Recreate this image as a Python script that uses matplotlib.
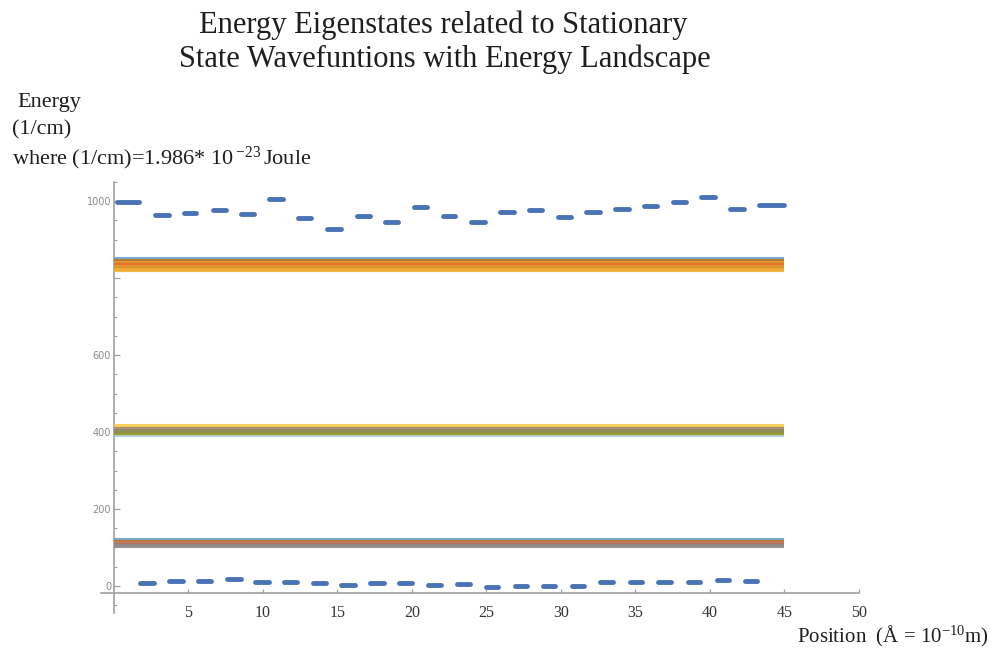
import matplotlib
matplotlib.use('Agg')
from matplotlib import pyplot as plt
from matplotlib.ticker import MultipleLocator, FixedLocator

plt.rcParams['mathtext.fontset'] = 'custom'
plt.rcParams['mathtext.rm'] = 'Liberation Serif'
plt.rcParams['mathtext.it'] = 'Liberation Serif:italic'

#-*-*-*-*-*-*-*-*--*-*-*-*-*-*-*-*-*-*-*-*-*---*-*-*-*-*-*-*-*-*-*-*-*
# Energy landscape (1/cm): barrier tops and well bottoms, one dash per cell

barrier_left = [0.07, 2.62, 4.56, 6.51, 8.39, 10.27, 12.21, 14.16, 16.17, 18.05,
                20.00, 21.95, 23.83, 25.77, 27.72, 29.66, 31.54, 33.49, 35.44,
                37.38, 39.26, 41.21, 43.15]
barrier_right = [1.81, 3.83, 5.64, 7.65, 9.53, 11.48, 13.36, 15.37, 17.32, 19.19,
                 21.14, 23.02, 25.03, 26.98, 28.86, 30.81, 32.75, 34.70, 36.58,
                 38.52, 40.47, 42.42, 45.10]
barrier_energy = [997, 964, 970, 976, 968, 1007, 956, 928, 962, 947, 984, 962,
                  945, 972, 978, 959, 972, 981, 987, 998, 1010, 981, 990]

well_left = [1.61, 3.56, 5.50, 7.45, 9.33, 11.28, 13.22, 15.10, 17.05, 18.99,
             20.94, 22.83, 24.81, 26.75, 28.66, 30.60, 32.46, 34.45, 36.38,
             38.34, 40.33, 42.21]
well_right = [2.82, 4.77, 6.64, 8.66, 10.54, 12.42, 14.36, 16.31, 18.26, 20.13,
              22.08, 24.07, 25.93, 27.87, 29.78, 31.72, 33.63, 35.57, 37.55,
              39.46, 41.44, 43.32]
well_energy = [7, 14, 14, 17, 11, 11, 8, 2, 8, 8, 2, 6, -2, 1, 1, 0, 9, 9, 9,
               11, 16, 13]

# Eigen-energies (1/cm), bunched in three bands over the whole structure
band_1 = [119, 115, 111, 107, 103]
band_2 = [415, 409, 403, 397, 392]
band_3 = [849, 844, 839, 835, 830, 825, 821]
x_end = 45

y_ticks = [0, 200, 400, 600, 800, 1000]
y_tick_labels = ['0', '200', '400', '600', '', '1000']
x_ticks = [5, 10, 15, 20, 25, 30, 35, 40, 45, 50]

#-*-*-*-*-*-*-*-*--*-*-*-*-*-*-*-*-*-*-*-*-*---*-*-*-*-*-*-*-*-*-*-*-*

band_1_colors = ['#5D9EC7', '#C56E1A', '#C87A5A', '#A87565', '#8C8C8C']
band_2_colors = ['#F5C842', '#9C8070', '#8E8A5A', '#929600', '#A8C8E0']
band_2_order = [4, 0, 1, 3, 2]
band_3_colors = ['#5D9EC7', '#C56E1A', '#E19C24', '#EB6235', '#E19C24', '#D98A3A', '#F2B030']

DASH = '#4A73B5'
CAP = 0.16  # half the dash width in x units, taken up by the round caps
SERIF = 'Liberation Serif'
INK = '#1e1e1e'


def draw_dashes(ax, left, right, energy):
    lines = ax.hlines(energy, [l + CAP for l in left], [r - CAP for r in right],
                      colors=DASH, linewidth=3.5, zorder=4)
    lines.set_capstyle('round')


def draw_band(ax, levels, colors, order=None):
    idx = order if order is not None else range(len(levels))
    for i in idx:
        ax.plot([0, x_end], [levels[i], levels[i]], color=colors[i],
                lw=3.0, alpha=0.85, solid_capstyle='butt', zorder=3)


fig = plt.figure(figsize=(9.95, 6.48), dpi=100)
ax = fig.add_axes([0.1018, 0.0542, 0.7615, 0.6650])
ax.set_xlim(-0.85, 50)
ax.set_ylim(-70, 1050)

draw_band(ax, band_1, band_1_colors)
draw_band(ax, band_2, band_2_colors, band_2_order)
draw_band(ax, band_3, band_3_colors)
draw_dashes(ax, barrier_left, barrier_right, barrier_energy)
draw_dashes(ax, well_left, well_right, well_energy)

# axes cross like a Mathematica plot
for s in ['top', 'right']:
    ax.spines[s].set_visible(False)
ax.spines['left'].set_position(('data', 0))
ax.spines['bottom'].set_position(('data', -18))
ax.spines['bottom'].set_bounds(-0.85, 50)
for s in ['left', 'bottom']:
    ax.spines[s].set_color('#a0a0a0')
    ax.spines[s].set_linewidth(1.2)

ax.yaxis.set_major_locator(FixedLocator(y_ticks))
ax.set_yticklabels(y_tick_labels)
ax.yaxis.set_minor_locator(MultipleLocator(50))
ax.tick_params(axis='y', which='major', direction='in', length=4, width=0.9,
               color='#a0a0a0', labelsize=7, labelcolor='#8a8a8a', pad=2)
ax.tick_params(axis='y', which='minor', direction='in', length=2.5, width=0.8,
               color='#a0a0a0')

ax.xaxis.set_major_locator(FixedLocator(x_ticks))
ax.tick_params(axis='x', which='major', direction='in', length=3, width=0.9,
               color='#a0a0a0', labelsize=11.5, labelcolor='#333333', pad=9)
for lab in ax.get_xticklabels():
    lab.set_fontfamily(SERIF)

fig.text(0.445, 1 - 25 / 648, 'Energy Eigenstates related to Stationary', ha='center',
         va='center', fontsize=22, family=SERIF, color=INK)
fig.text(0.447, 1 - 59 / 648, 'State Wavefuntions with Energy Landscape', ha='center',
         va='center', fontsize=22, family=SERIF, color=INK)

fig.text(17 / 995, 1 - 103 / 648, 'Energy', ha='left', va='center',
         fontsize=16, family=SERIF, color=INK)
fig.text(12 / 995, 1 - 130 / 648, '(1/cm)', ha='left', va='center',
         fontsize=16, family=SERIF, color=INK)
fig.text(12 / 995, 1 - 158 / 648,
         r'where (1/cm)=1.986* 10$\,^{\mathrm{-23}}\,$Joule',
         ha='left', va='center', fontsize=16, family=SERIF, color=INK)

fig.text(797 / 995, 1 - 636 / 648, r'Position  (Å = 10$^{\mathrm{-10}}$m)',
         ha='left', va='center', fontsize=15, family=SERIF, color=INK)

fig.savefig('out.png', dpi=100)
